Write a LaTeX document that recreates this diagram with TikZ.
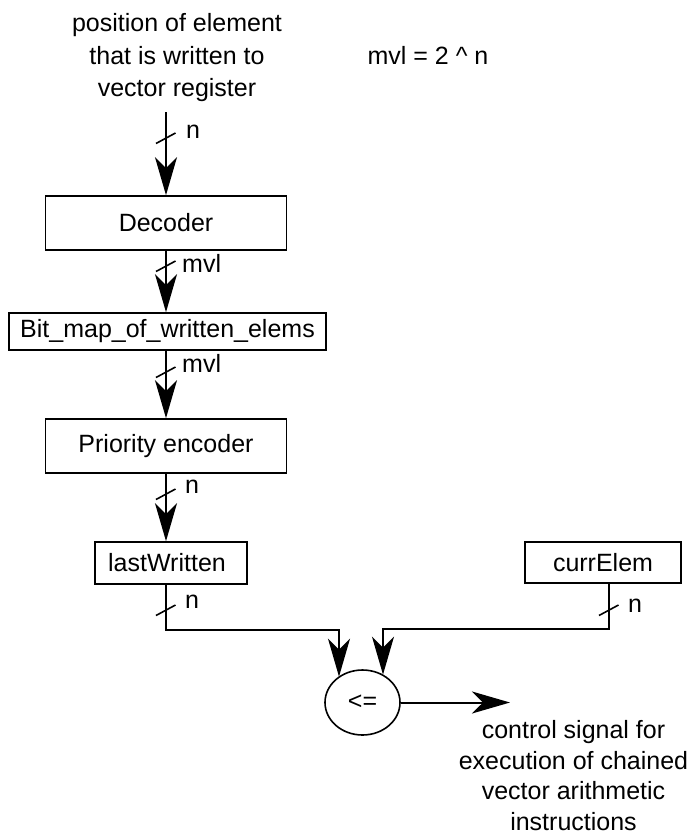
\documentclass[tikz,border=0pt]{standalone}
\usepackage{fontspec}
\setmainfont{Liberation Sans}
\usetikzlibrary{arrows.meta,shapes.geometric,calc}
\begin{document}
\begin{tikzpicture}[x=1pt,y=-1pt,
  every node/.style={font=\fontsize{25}{32.5}\selectfont, inner sep=0pt},
  blk/.style={draw, line width=1.6pt, minimum height=54pt},
  arr/.style={line width=2pt, -{Stealth[length=38pt,width=22pt,inset=11pt]}},
  bus/.pic={\draw[line width=1.6pt] (-10,5.5) -- (9.5,-5);},
  lbl/.style={anchor=base west}]
\useasboundingbox (0,0) rectangle (692,835);

\node[align=center] (src) at (177,58) {position of element\\that is written to\\vector register};
\node[anchor=base] (eq) at (428,64) {mvl = 2 \textasciicircum{} n};
\node[blk, minimum width=241pt] (dec) at (166,223) {Decoder};
\node[blk, minimum width=317pt, minimum height=37pt] (bmap) at (167.5,331.5) {Bit\_map\_of\_written\_elems};
\node[blk, minimum width=241pt] (pri) at (166,446) {Priority encoder};
\node[blk, minimum width=152pt, minimum height=42pt, text width=152pt, align=center] (lw) at (171,563) {\hspace*{-8pt}lastWritten};
\node[blk, minimum width=156pt, minimum height=41pt] (ce) at (603,562.5) {currElem};
\node[draw, ellipse, line width=1.6pt, minimum width=75pt, minimum height=65pt] (cmp) at (362.5,702.5) {<=};
\node[align=center, font=\fontsize{25}{30.7}\selectfont] (out) at (573.5,775.6) {control signal for\\execution of chained\\vector arithmetic\\instructions};

\coordinate (srcx) at (166,112);
\coordinate (cex) at (609,0);
\coordinate (jl) at (339,630);
\coordinate (jr) at (383,629);
\coordinate (oe) at (510,702.5);

\draw[arr] (srcx) -- (srcx |- dec.north);
\draw[arr] (dec.south -| srcx) -- (bmap.north -| srcx);
\draw[arr] (bmap.south -| srcx) -- (pri.north -| srcx);
\draw[arr] (pri.south -| srcx) -- (lw.north -| srcx);
\draw[arr] (lw.south -| srcx) |- (jl) -- (jl |- cmp.133);
\draw[arr] (ce.south -| cex) |- (jr) -- (jr |- cmp.53);
\draw[arr] (cmp.east) -- (oe);

\pic at (166,138) {bus};
\pic at (166,266) {bus};
\pic at (166,372) {bus};
\pic at (166,494) {bus};
\pic at (166,610) {bus};
\pic at (609,610) {bus};

\node[lbl] (n1) at (186,138) {n};
\node[lbl] (m1) at (182,272) {mvl};
\node[lbl] (m2) at (182,372) {mvl};
\node[lbl] (n2) at (185,493) {n};
\node[lbl] (n3) at (185,608) {n};
\node[lbl] (n4) at (628,612) {n};
\end{tikzpicture}
\end{document}
